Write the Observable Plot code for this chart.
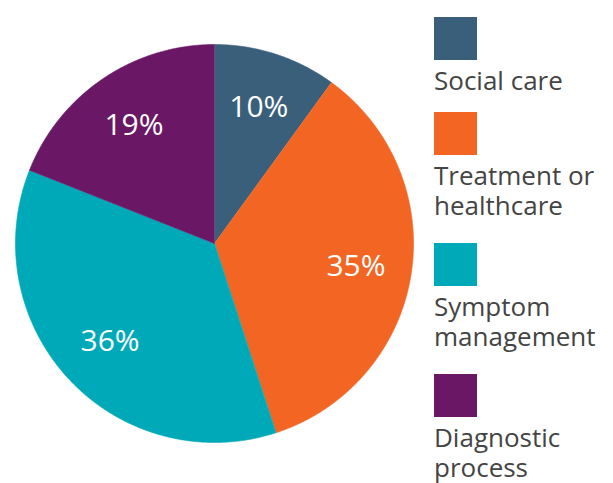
<!DOCTYPE html>
<html>
<head>
<meta charset="utf-8">
<script src="https://cdn.jsdelivr.net/npm/d3@7"></script>
<script src="https://cdn.jsdelivr.net/npm/@observablehq/plot@0.6"></script>
<style>
  html, body { margin: 0; padding: 0; background: #fff; }
  #wrap { position: relative; width: 613px; height: 483px; overflow: hidden; font-family: "Open Sans", sans-serif; }
  #legend { position: absolute; left: 434px; top: 0; }
  .item { position: absolute; left: 0; width: 180px; }
  .sw { width: 43px; height: 43px; }
  .lab { color: #444; font-size: 26px; line-height: 30px; margin-top: 5px; white-space: nowrap; }
</style>
</head>
<body>
<div id="wrap"></div>
<script>
const categories = ["Social care", "Treatment or healthcare", "Symptom management", "Diagnostic process"];
const legendLabels = [["Social care"], ["Treatment or", "healthcare"], ["Symptom", "management"], ["Diagnostic", "process"]];
const values = [10, 35, 36, 19];
const colors = ["#3a5f7b", "#f26522", "#00a9b7", "#6a1765"];

const pie = d3.pie().sort(null).value(d => d.value)(categories.map((c, i) => ({category: c, value: values[i]})));
const poly = [];
const labels = [];
for (const s of pie) {
  const c = s.data.category;
  poly.push({category: c, x: 0, y: 0});
  const n = Math.max(2, Math.ceil((s.endAngle - s.startAngle) / 0.005));
  for (let k = 0; k <= n; k++) {
    const a = s.startAngle + (s.endAngle - s.startAngle) * k / n;
    poly.push({category: c, x: Math.sin(a), y: Math.cos(a)});
  }
  const m = (s.startAngle + s.endAngle) / 2;
  labels.push({category: c, x: 0.72 * Math.sin(m), y: 0.72 * Math.cos(m), text: s.data.value + "%"});
}

const chart = Plot.plot({
  width: 613,
  height: 483,
  margin: 0,
  style: {fontFamily: "'Open Sans', sans-serif", background: "#fff"},
  x: {domain: [-1, 1], range: [15, 413], axis: null},
  y: {domain: [-1, 1], range: [442, 44], axis: null},
  color: {domain: categories, range: colors},
  marks: [
    Plot.line(poly, {x: "x", y: "y", z: "category", fill: "category", stroke: "category", strokeWidth: 0.6, curve: "linear"}),
    Plot.text(labels, {x: "x", y: "y", text: "text", fill: "white", fontSize: 30, fontWeight: 400})
  ]
});
const wrap = document.getElementById("wrap");
wrap.appendChild(chart);

const tops = [17, 112, 243, 374];
const legend = document.createElement("div");
legend.id = "legend";
categories.forEach((c, i) => {
  const it = document.createElement("div");
  it.className = "item";
  it.style.top = tops[i] + "px";
  const sw = document.createElement("div");
  sw.className = "sw";
  sw.style.background = colors[i];
  const lab = document.createElement("div");
  lab.className = "lab";
  lab.innerHTML = legendLabels[i].join("<br>");
  it.appendChild(sw);
  it.appendChild(lab);
  legend.appendChild(it);
});
wrap.appendChild(legend);
</script>
</body>
</html>
